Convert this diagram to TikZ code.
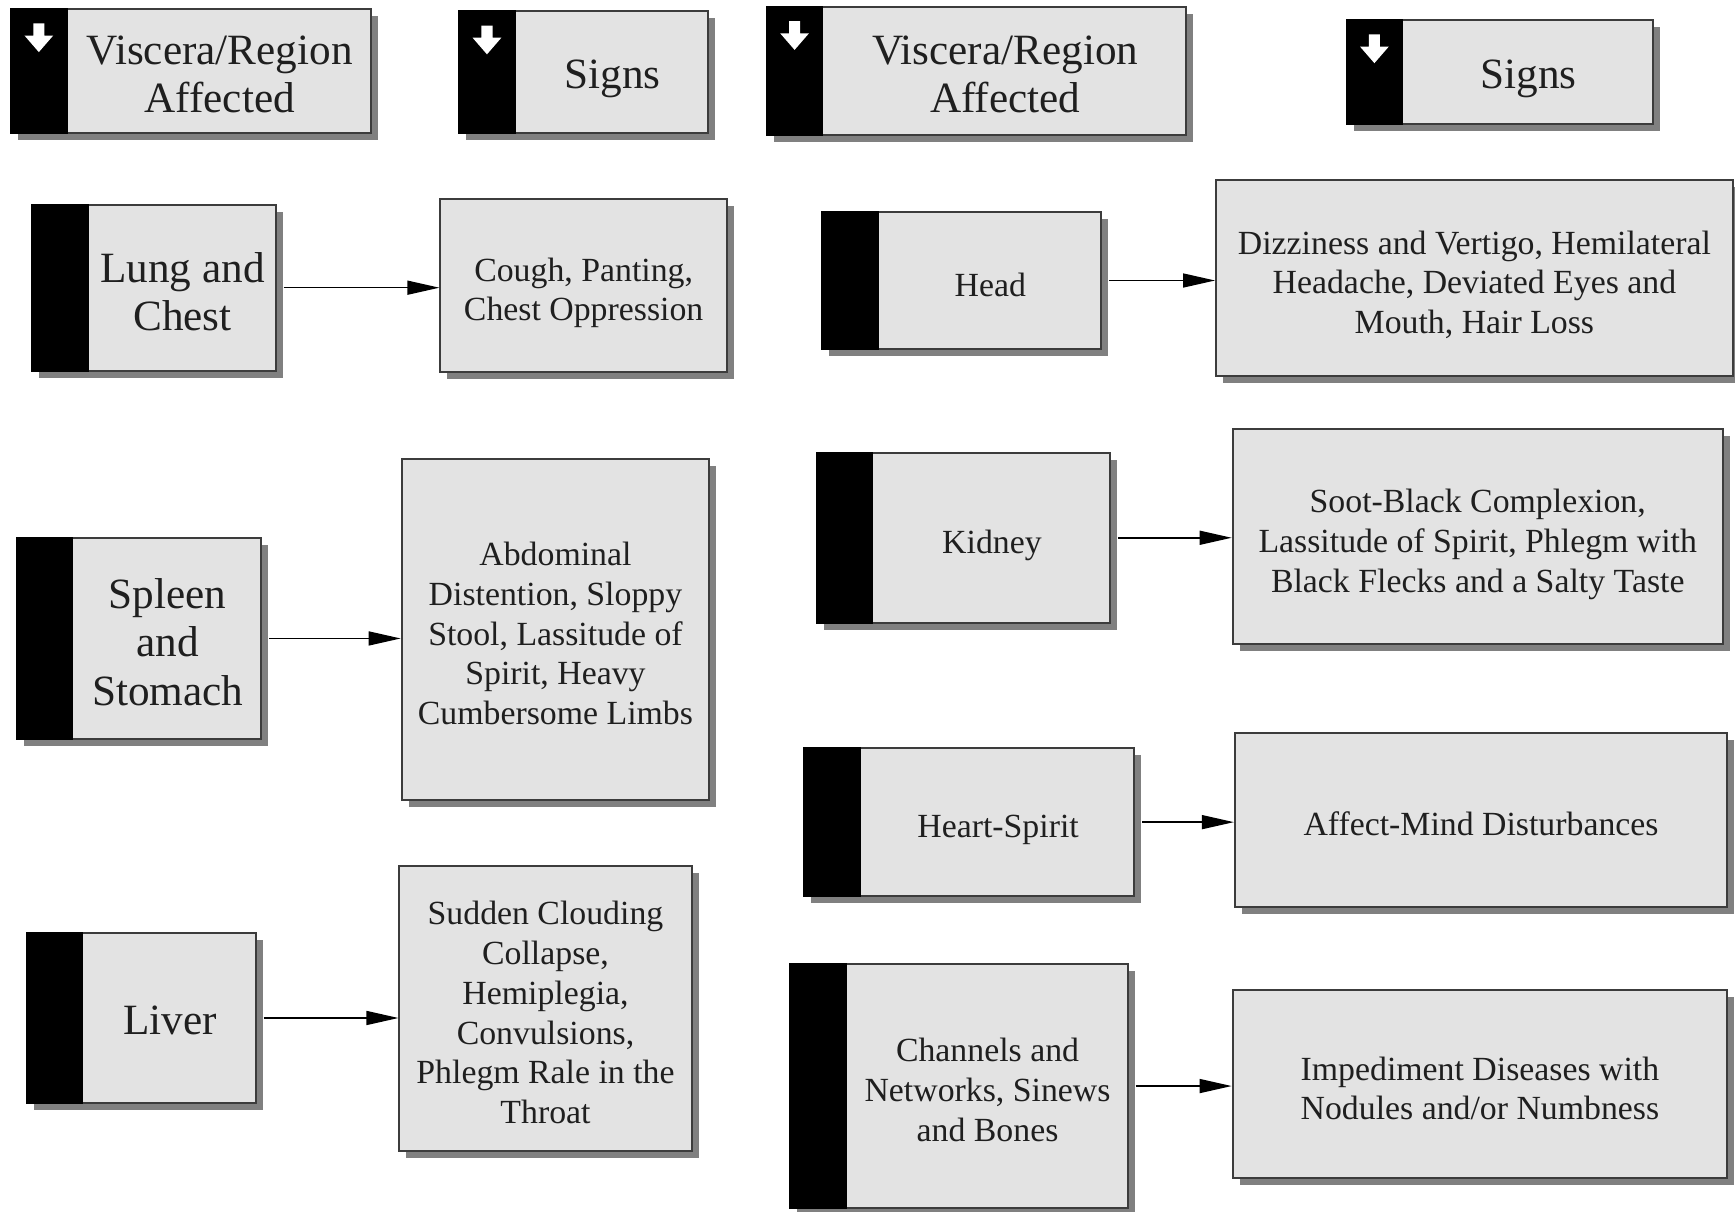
\documentclass[tikz,border=0pt]{standalone}
\usepackage{fontspec}
\setmainfont{Liberation Serif}
\usetikzlibrary{calc,fit,shadows,arrows.meta}
\definecolor{boxfill}{RGB}{227,227,227}
\definecolor{boxline}{RGB}{60,60,60}
\definecolor{shadowgray}{RGB}{128,128,128}
\newcommand\mystripe[1]{\fill[black] (#1.north west) rectangle ($(#1.south west)+(52,0)$);}
\newcommand\myhdarrow[1]{\fill[white] ($(#1.north west)+(21,14)$) -- ++(10,0) -- ++(0,11) -- ++(8,0) -- ++(-13,15) -- ++(-13,-15) -- ++(8,0) -- cycle;}
\begin{document}
\begin{tikzpicture}[x=0.55325pt,y=-0.55325pt,
  sbox/.style={draw=boxline, line width=1pt, fill=boxfill, inner sep=0pt,
    drop shadow={shadow xshift=3.5pt, shadow yshift=-3.5pt, fill=shadowgray, opacity=1}},
  bigtxt/.style={align=center, font=\fontsize{21.6}{24.2}\selectfont, text=black!88, inner sep=0pt,
    execute at begin node=\strut, execute at end node=\strut, yshift=-5.4pt},
  smalltxt/.style={align=center, font=\fontsize{16.9}{19.9}\selectfont, text=black!88, inner sep=0pt,
    execute at begin node=\strut, execute at end node=\strut, yshift=-4.9pt},
  bigone/.style={bigtxt, yshift=2pt},
  smallone/.style={smalltxt, yshift=1pt},
  conn/.style={line width=0.75pt, -{Triangle[length=16pt,width=7pt]}}
]
\useasboundingbox (0,0) rectangle (1568,1095);

% ---------- headers ----------
\node[sbox, fit={(10,8) (335,120)}] (h1) {};
\node[sbox, fit={(415,10) (640,120)}] (h2) {};
\node[sbox, fit={(693,6) (1072,122)}] (h3) {};
\node[sbox, fit={(1217,18) (1494,112)}] (h4) {};
\foreach \n in {h1,h2,h3,h4} {\mystripe{\n}\myhdarrow{\n}}
\node[bigtxt] (h1t) at ($(h1.center)+(26,0)$) {Viscera/Region\\Affected};
\node[bigone] (h2t) at ($(h2.center)+(26,0)$) {Signs};
\node[bigtxt] (h3t) at ($(h3.center)+(26,0)$) {Viscera/Region\\Affected};
\node[bigone] (h4t) at ($(h4.center)+(26,0)$) {Signs};

% ---------- left viscera ----------
\node[sbox, fit={(29,185) (249,335)}] (lung) {};
\node[sbox, fit={(15,486) (236,668)}] (spleen) {};
\node[sbox, fit={(24,843) (231,997)}] (liver) {};
% ---------- right viscera ----------
\node[sbox, fit={(743,192) (995,315)}] (head) {};
\node[sbox, fit={(738,409) (1003,563)}] (kidney) {};
\node[sbox, fit={(727,676) (1025,810)}] (heart) {};
\node[sbox, fit={(714,871) (1019,1092)}] (chan) {};
\foreach \n in {lung,spleen,liver,head,kidney,heart,chan} {\mystripe{\n}}

\node[bigtxt] (lungt) at ($(lung.center)+(26,0)$) {Lung and\\Chest};
\node[bigtxt] (spleent) at ($(spleen.center)+(26,0)$) {Spleen\\and\\Stomach};
\node[bigone] (livert) at ($(liver.center)+(26,0)$) {Liver};
\node[smallone] (headt) at ($(head.center)+(26,0)$) {Head};
\node[smallone] (kidneyt) at ($(kidney.center)+(26,0)$) {Kidney};
\node[smallone] (heartt) at ($(heart.center)+(26,0)$) {Heart-Spirit};
\node[smalltxt] (chant) at ($(chan.center)+(26,0)$) {Channels and\\Networks, Sinews\\and Bones};

% ---------- signs ----------
\node[sbox, fit={(398,180) (657,336)}] (cough) {};
\node[sbox, fit={(363,415) (641,723)}] (abd) {};
\node[sbox, fit={(361,783) (625,1040)}] (sudden) {};
\node[sbox, fit={(1099,163) (1566,340)}] (dizzy) {};
\node[sbox, fit={(1114,388) (1557,582)}] (soot) {};
\node[sbox, fit={(1116,662) (1561,820)}] (affect) {};
\node[sbox, fit={(1114,895) (1561,1065)}] (imped) {};

\node[smalltxt] (cought) at (cough.center) {Cough, Panting,\\Chest Oppression};
\node[smalltxt] (abdt) at (abd.center) {Abdominal\\Distention, Sloppy\\Stool, Lassitude of\\Spirit, Heavy\\Cumbersome Limbs};
\node[smalltxt] (suddent) at (sudden.center) {Sudden Clouding\\Collapse,\\Hemiplegia,\\Convulsions,\\Phlegm Rale in the\\Throat};
\node[smalltxt] (dizzyt) at (dizzy.center) {Dizziness and Vertigo, Hemilateral\\Headache, Deviated Eyes and\\Mouth, Hair Loss};
\node[smalltxt] (soott) at (soot.center) {Soot-Black Complexion,\\Lassitude of Spirit, Phlegm with\\Black Flecks and a Salty Taste};
\node[smallone] (affectt) at (affect.center) {Affect-Mind Disturbances};
\node[smalltxt] (impedt) at (imped.center) {Impediment Diseases with\\Nodules and/or Numbness};

% ---------- connectors ----------
\draw[conn] ([xshift=3.5pt]lung.east) -- (lung.east -| cough.west);
\draw[conn] ([xshift=3.5pt]spleen.east) -- (spleen.east -| abd.west);
\draw[conn] ([xshift=3.5pt]liver.east) -- (liver.east -| sudden.west);
\draw[conn] ([xshift=3.5pt]head.east) -- (head.east -| dizzy.west);
\draw[conn] ([xshift=3.5pt]kidney.east) -- (kidney.east -| soot.west);
\draw[conn] ([xshift=3.5pt]heart.east) -- (heart.east -| affect.west);
\draw[conn] ([xshift=3.5pt]chan.east) -- (chan.east -| imped.west);
\end{tikzpicture}
\end{document}
